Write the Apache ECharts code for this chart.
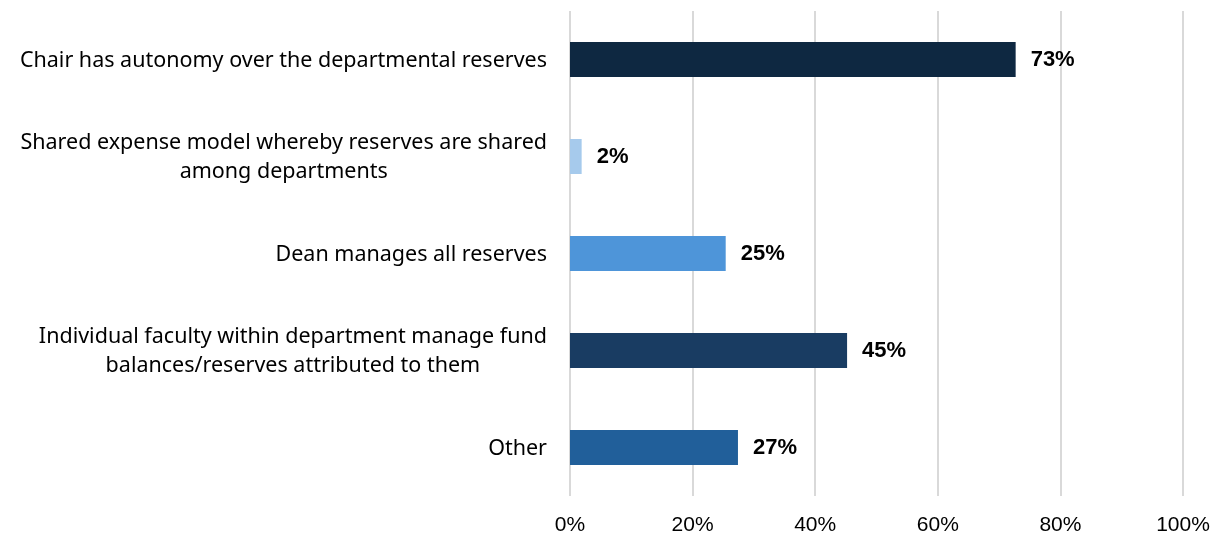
<!DOCTYPE html>
<html>
<head>
<meta charset="utf-8">
<script src="https://cdn.jsdelivr.net/npm/echarts@6/dist/echarts.min.js"></script>
<style>
  html, body { margin: 0; padding: 0; background: #fff; }
  #chart { width: 1213px; height: 535px; }
</style>
</head>
<body>
<div id="chart"></div>
<script>
// categories, top to bottom
var categories = [
  "Chair has autonomy over the departmental reserves",
  "Shared expense model whereby reserves are shared\namong departments",
  "Dean manages all reserves",
  "Individual faculty within department manage fund\nbalances/reserves attributed to them",
  "Other"
];
var values = [72.7, 1.9, 25.4, 45.2, 27.4];
var barColors = ["#0e2841", "#a6caec", "#4e95d9", "#193c62", "#215f9a"];
var tickLabels = ["0%", "20%", "40%", "60%", "80%", "100%"];

var myChart = echarts.init(document.getElementById("chart"));

var option = {
  animation: false,
  grid: {
    left: 570,
    right: 30,
    top: 11,
    bottom: 39,
    outerBoundsMode: "none"
  },
  xAxis: {
    type: "value",
    min: 0,
    max: 100,
    interval: 20,
    axisLine: { show: false },
    axisTick: { show: false },
    splitLine: { show: true, lineStyle: { color: "#d9d9d9", width: 2 } },
    axisLabel: {
      margin: 19,
      color: "#000",
      fontFamily: "Liberation Sans",
      fontSize: 21,
      formatter: function (v) {
        return tickLabels[v / 20];
      }
    }
  },
  yAxis: {
    type: "category",
    inverse: true,
    data: categories,
    axisLine: { show: false },
    axisTick: { show: false },
    axisLabel: {
      margin: 23,
      color: "#000",
      fontFamily: "Noto Sans",
      fontSize: 21.5,
      lineHeight: 29,
      padding: [2, 0, 0, 0],
      formatter: function (v) {
        // each line centred within the label block
        return v.split("\n").map(function (s) { return "{c|" + s + "}"; }).join("\n");
      },
      rich: {
        c: {
          align: "center",
          color: "#000",
          fontFamily: "Noto Sans",
          fontSize: 21.5,
          lineHeight: 29
        }
      }
    }
  },
  series: [
    {
      type: "bar",
      barWidth: 35,
      data: values.map(function (v, i) {
        return { value: v, itemStyle: { color: barColors[i] } };
      }),
      label: {
        show: true,
        position: "right",
        distance: 15,
        color: "#000",
        fontFamily: "Liberation Sans",
        fontWeight: "bold",
        fontSize: 22,
        padding: [3, 0, 0, 0],
        formatter: function (p) {
          return Math.round(p.value) + "%";
        }
      }
    }
  ]
};

myChart.setOption(option);

window.addEventListener("resize", function () {
  myChart.resize();
});
</script>
</body>
</html>
